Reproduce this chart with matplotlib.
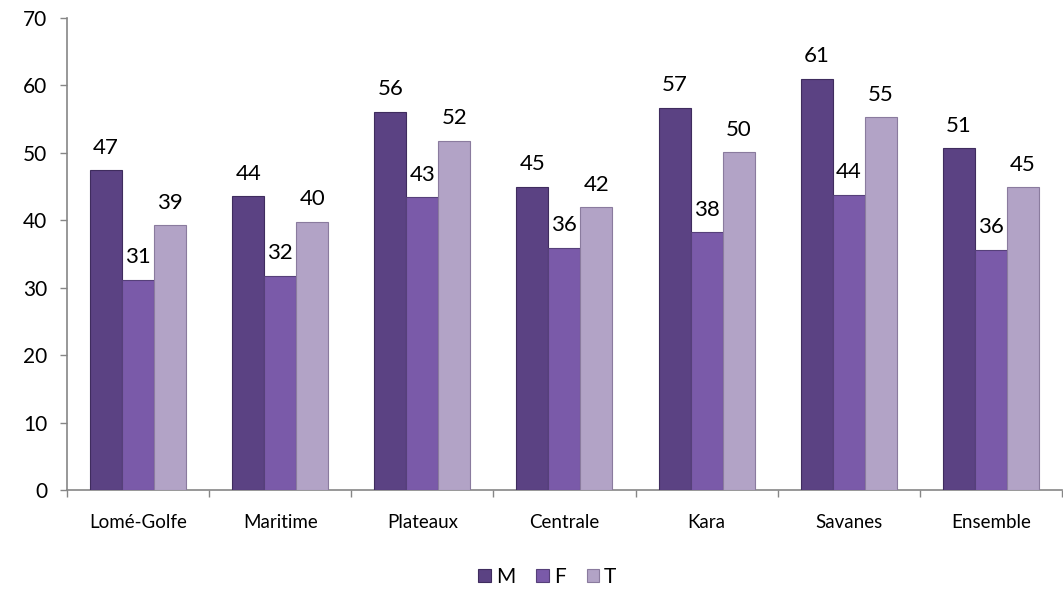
import matplotlib
matplotlib.use("Agg")
import matplotlib.pyplot as plt
import numpy as np

categories = ["Lomé-Golfe", "Maritime", "Plateaux", "Centrale", "Kara", "Savanes", "Ensemble"]
series_names = ["M", "F", "T"]
M = [47.4, 43.6, 56.1, 45.0, 56.7, 61.0, 50.7]
F = [31.2, 31.8, 43.4, 35.9, 38.2, 43.8, 35.6]
T = [39.3, 39.8, 51.8, 41.9, 50.1, 55.3, 44.9]
yticks = [0, 10, 20, 30, 40, 50, 60, 70]

colors = ["#5b4283", "#7a5aa9", "#b2a3c6"]
edges = ["#3f2c5e", "#56407a", "#8a7b9e"]

plt.rcParams['font.family'] = ['Lato', 'DejaVu Sans']

fig = plt.figure(figsize=(10.63, 5.92), dpi=100)
ax = fig.add_axes([0.063, 0.1723, 0.936, 0.7973])

x = np.arange(len(categories))
w = 0.225
for i, (vals, name) in enumerate(zip([M, F, T], series_names)):
    pos = x + (i - 1) * w
    bars = ax.bar(pos, vals, width=w, color=colors[i], edgecolor=edges[i], linewidth=0.8, label=name, zorder=3)
    for b, v in zip(bars, vals):
        ax.annotate(f"{v:.0f}", (b.get_x() + b.get_width() / 2, v), xytext=(0, 9),
                    textcoords="offset points", ha="center", va="bottom", fontsize=16, color="#000000")

ax.set_xlim(-0.5, len(categories) - 0.5)
ax.set_ylim(0, 70)
ax.set_yticks(yticks)
ax.set_yticklabels([str(t) for t in yticks], fontsize=15)
ax.set_xticks(x)
ax.set_xticklabels(categories, fontsize=13.5)
ax.set_xticks(np.arange(-0.5, len(categories), 1.0), minor=True)
ax.tick_params(axis='x', which='major', length=0, pad=17)
ax.tick_params(axis='x', which='minor', length=5, color="#868686", width=1)
ax.tick_params(axis='y', length=5, color="#868686", width=1, pad=9)

for s in ["top", "right"]:
    ax.spines[s].set_visible(False)
for s in ["left", "bottom"]:
    ax.spines[s].set_color("#868686")
    ax.spines[s].set_linewidth(1.2)

leg = fig.legend(loc="center", bbox_to_anchor=(0.515, 0.025), ncol=3, frameon=False,
                 fontsize=15, handlelength=0.6, handleheight=0.6, handletextpad=0.25, columnspacing=1.0)

fig.savefig("out.png", dpi=100)
